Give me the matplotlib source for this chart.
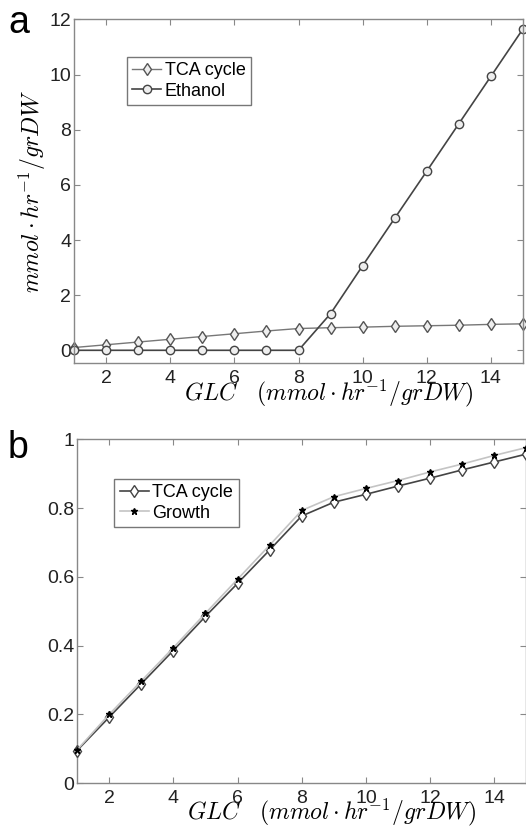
import matplotlib
matplotlib.use("Agg")
import matplotlib.pyplot as plt

plt.rcParams['font.family'] = ['Liberation Sans', 'DejaVu Sans']
plt.rcParams['mathtext.fontset'] = 'cm'

# Panel a data
glc = list(range(1, 16))
tca_a = [0.10, 0.20, 0.30, 0.40, 0.50, 0.60, 0.70, 0.79, 0.82, 0.84, 0.87, 0.89, 0.91, 0.94, 0.96]
ethanol = [0, 0, 0, 0, 0, 0, 0, 0, 1.33, 3.07, 4.79, 6.50, 8.22, 9.94, 11.66]

# Panel b data
tca_b = [0.095, 0.192, 0.289, 0.386, 0.485, 0.581, 0.678, 0.777, 0.817, 0.840, 0.864, 0.887, 0.911, 0.934, 0.957]
growth = [0.097, 0.200, 0.297, 0.394, 0.494, 0.593, 0.692, 0.793, 0.833, 0.857, 0.880, 0.905, 0.928, 0.953, 0.976]

xlabel = r'$GLC\quad(mmol\cdot hr^{-1}/grDW)$'
ylabel = r'$mmol\cdot hr^{-1}/grDW$'

fig = plt.figure(figsize=(5.26, 8.26), dpi=100)
ax1 = fig.add_axes([0.1407, 0.5609, 0.8536, 0.4155])
ax2 = fig.add_axes([0.1464, 0.0517, 0.8544, 0.4165])


def style(ax):
    for s in ax.spines.values():
        s.set_color('#888888')
        s.set_linewidth(1.0)
    ax.tick_params(direction='in', top=True, right=True, length=4,
                   color='#888888', labelsize=14, labelcolor='#222222')
    ax.tick_params(axis='x', pad=5)
    ax.tick_params(axis='y', pad=2)
    ax.set_xlim(1, 15)
    ax.set_xticks([2, 4, 6, 8, 10, 12, 14])


# Panel a
ax1.plot(glc, tca_a, color='#777777', lw=1.0, marker='d', ms=6,
         mfc='#eeeeee', mec='#555555', label='TCA cycle', clip_on=False)
ax1.plot(glc, ethanol, color='#444444', lw=1.2, marker='o', ms=6,
         mfc='#eeeeee', mec='#444444', label='Ethanol', clip_on=False)
style(ax1)
ax1.set_ylim(-0.45, 12)
ax1.set_yticks([0, 2, 4, 6, 8, 10, 12])
ax1.set_xlabel(xlabel, fontsize=17)
ax1.xaxis.set_label_coords(0.567, -0.045)
ax1.set_ylabel(ylabel, fontsize=17, labelpad=1)
leg = ax1.legend(loc='upper left', bbox_to_anchor=(0.098, 0.918), fontsize=13,
                 handlelength=1.6, handletextpad=0.2, borderpad=0.3,
                 labelspacing=0.2, fancybox=False, framealpha=1)
leg.get_frame().set_edgecolor('#777777')

# Panel b
ax2.plot(glc, tca_b, color='#444444', lw=1.2, marker='d', ms=6,
         mfc='white', mec='#444444', label='TCA cycle', clip_on=False, zorder=3)
ax2.plot(glc, growth, color='#c4c4c4', lw=1.2, marker='*', ms=5,
         mfc='black', mec='black', label='Growth', clip_on=False, zorder=4)
style(ax2)
ax2.set_ylim(0, 1)
ax2.set_yticks([0, 0.2, 0.4, 0.6, 0.8, 1])
ax2.set_yticklabels(['0', '0.2', '0.4', '0.6', '0.8', '1'])
ax2.set_xlabel(xlabel, fontsize=17)
ax2.xaxis.set_label_coords(0.566, -0.038)
leg2 = ax2.legend(loc='upper left', bbox_to_anchor=(0.063, 0.912), fontsize=13,
                  handlelength=1.6, handletextpad=0.2, borderpad=0.3,
                  labelspacing=0.2, fancybox=False, framealpha=1)
leg2.get_frame().set_edgecolor('#777777')

fig.text(0.015, 0.972, 'a', fontsize=27, va='center', ha='left')
fig.text(0.015, 0.458, 'b', fontsize=27, va='center', ha='left')

fig.savefig('out.png', dpi=100)
